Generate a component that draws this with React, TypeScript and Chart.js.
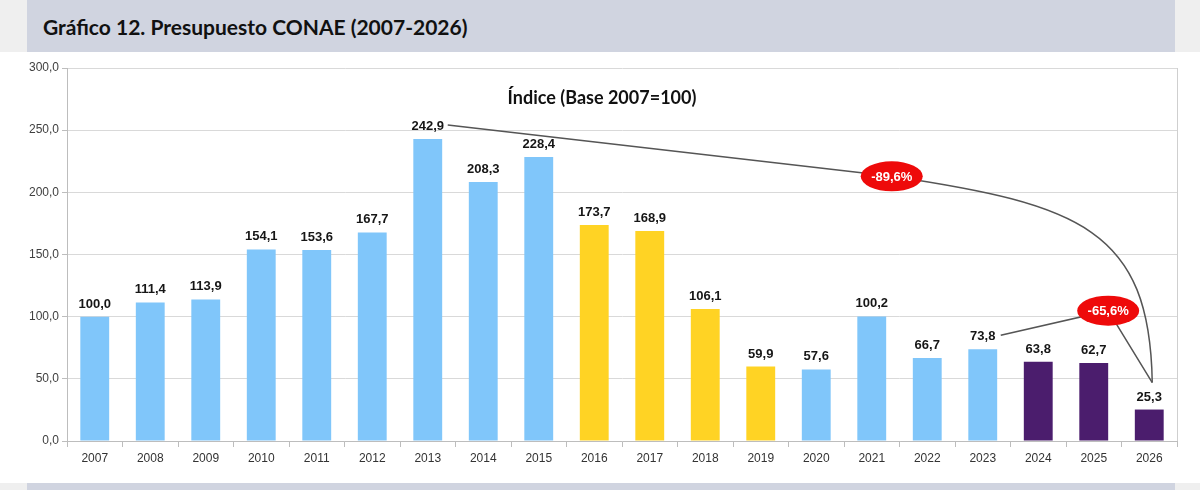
import { useEffect, useRef } from 'react';
import { Chart, registerables, type ChartConfiguration, type Plugin } from 'chart.js';

Chart.register(...registerables);

// years and index values (base 2007 = 100)
const years = [
  '2007', '2008', '2009', '2010', '2011', '2012', '2013', '2014', '2015', '2016',
  '2017', '2018', '2019', '2020', '2021', '2022', '2023', '2024', '2025', '2026',
];
const indice = [
  100.0, 111.4, 113.9, 154.1, 153.6, 167.7, 242.9, 208.3, 228.4, 173.7,
  168.9, 106.1, 59.9, 57.6, 100.2, 66.7, 73.8, 63.8, 62.7, 25.3,
];
// period each year belongs to
const periodo = [
  'a', 'a', 'a', 'a', 'a', 'a', 'a', 'a', 'a', 'b',
  'b', 'b', 'b', 'a', 'a', 'a', 'a', 'c', 'c', 'c',
];
const yTicks = [0, 50, 100, 150, 200, 250, 300];
const variaciones = ['-89,6%', '-65,6%'];

const colores: Record<string, string> = { a: '#80c6fa', b: '#ffd324', c: '#4b1d6d' };
const LABEL_FONT = 'bold 13px "Liberation Sans", Arial, sans-serif';

const fmt = (v: number) => v.toFixed(1).replace('.', ',');

const extras: Plugin<'bar'> = {
  id: 'extras',
  afterDatasetsDraw(chart) {
    const { ctx, chartArea } = chart;
    const xs = chart.scales.x;
    const ys = chart.scales.y;
    const px = (i: number, v: number): [number, number] => [xs.getPixelForValue(i), ys.getPixelForValue(v)];
    const labelY = (i: number) => ys.getPixelForValue(indice[i]) - 14;

    ctx.save();
    // right border of plot
    ctx.strokeStyle = '#cfcfcf';
    ctx.lineWidth = 1;
    ctx.beginPath();
    ctx.moveTo(chartArea.right + 0.5, chartArea.top);
    ctx.lineTo(chartArea.right + 0.5, chartArea.bottom);
    ctx.stroke();

    // value labels
    ctx.font = LABEL_FONT;
    ctx.fillStyle = '#161616';
    ctx.textAlign = 'center';
    ctx.textBaseline = 'alphabetic';
    const meta = chart.getDatasetMeta(0);
    meta.data.forEach((bar, i) => {
      ctx.fillText(fmt(indice[i]), bar.x, bar.y - 9);
    });

    // inner title
    ctx.font = 'bold 18px Lato, "Open Sans", sans-serif';
    ctx.fillStyle = '#111';
    ctx.textBaseline = 'middle';
    ctx.fillText('Índice (Base 2007=100)', (chartArea.left + chartArea.right) / 2 - 20, chartArea.top + 30);

    // connectors
    const last = years.length - 1;
    const end: [number, number] = [xs.getPixelForValue(last) + 3, ys.getPixelForValue(indice[last]) - 27];
    const s1: [number, number] = [xs.getPixelForValue(6) + 20, labelY(6)];
    const e1 = px(14.36, 212.9);
    const c1 = px(17.75, 190.3);
    const c2 = px(19.01, 170.2);
    const s2: [number, number] = [xs.getPixelForValue(16) + 18, labelY(16)];
    const e2 = px(18.26, 104.8);

    ctx.strokeStyle = '#555';
    ctx.lineWidth = 1.5;
    ctx.beginPath();
    ctx.moveTo(...s1);
    ctx.lineTo(...e1);
    ctx.bezierCurveTo(c1[0], c1[1], c2[0], c2[1], end[0], end[1]);
    ctx.stroke();
    ctx.beginPath();
    ctx.moveTo(...s2);
    ctx.lineTo(...e2);
    ctx.lineTo(...end);
    ctx.stroke();

    // red bubbles
    [e1, e2].forEach((p, k) => {
      ctx.fillStyle = '#ee0a0a';
      ctx.beginPath();
      ctx.ellipse(p[0], p[1], 31, 15, 0, 0, Math.PI * 2);
      ctx.fill();
      ctx.fillStyle = '#fff';
      ctx.font = LABEL_FONT;
      ctx.textBaseline = 'middle';
      ctx.fillText(variaciones[k], p[0], p[1] + 1);
    });
    ctx.restore();
  },
};

function BarChart() {
  const ref = useRef<HTMLCanvasElement>(null);

  useEffect(() => {
    if (!ref.current) return;
    const config: ChartConfiguration<'bar'> = {
      type: 'bar',
      data: {
        labels: years,
        datasets: [{
          data: indice,
          backgroundColor: periodo.map((p) => colores[p]),
          barPercentage: 0.52,
          categoryPercentage: 1,
        }],
      },
      options: {
        animation: false,
        responsive: false,
        devicePixelRatio: 1,
        layout: { padding: { left: 0, right: 23, top: 16, bottom: 0 } },
        plugins: { legend: { display: false }, tooltip: { enabled: false } },
        scales: {
          x: {
            grid: { drawOnChartArea: false, drawTicks: true, tickLength: 6, tickColor: '#bdbdbd' },
            border: { color: '#bdbdbd' },
            ticks: { color: '#333', padding: 4, font: { family: '"Liberation Sans", Arial', size: 12 } },
            afterFit: (s) => { s.height = 42; },
          },
          y: {
            min: 0,
            max: 300,
            afterBuildTicks: (s) => { s.ticks = yTicks.map((v) => ({ value: v })); },
            grid: { color: '#d9d9d9', tickColor: '#bdbdbd', tickLength: 5 },
            border: { color: '#bdbdbd' },
            ticks: {
              color: '#404040',
              padding: 3,
              font: { family: '"Liberation Sans", Arial', size: 12 },
              callback: (v) => fmt(Number(v)),
            },
            afterFit: (s) => { s.width = 67; },
          },
        },
      },
      plugins: [extras],
    };
    const chart = new Chart(ref.current, config);
    return () => { chart.destroy(); };
  }, []);

  return <canvas ref={ref} width={1200} height={431} style={{ position: 'absolute', left: 0, top: 52 }} />;
}

export default function App() {
  const grey = '#efefef';
  const band = '#d0d4e0';
  return (
    <div style={{ position: 'fixed', left: 0, top: 0, width: 1200, height: 490, background: '#fff', overflow: 'hidden' }}>
      <div style={{ position: 'absolute', left: 0, top: 0, width: 1200, height: 52, background: grey }} />
      <div style={{ position: 'absolute', left: 27, top: 0, width: 1148, height: 52, background: band }} />
      <div style={{
        position: 'absolute', left: 43, top: 13, fontFamily: 'Lato, "Open Sans", sans-serif',
        fontWeight: 'bold', fontSize: 21, color: '#111', whiteSpace: 'nowrap', lineHeight: '28px',
      }}>
        Gráfico 12. Presupuesto CONAE (2007-2026)
      </div>
      <BarChart />
      <div style={{ position: 'absolute', left: 0, top: 483, width: 1200, height: 7, background: grey }} />
      <div style={{ position: 'absolute', left: 27, top: 483, width: 1148, height: 7, background: band }} />
    </div>
  );
}
